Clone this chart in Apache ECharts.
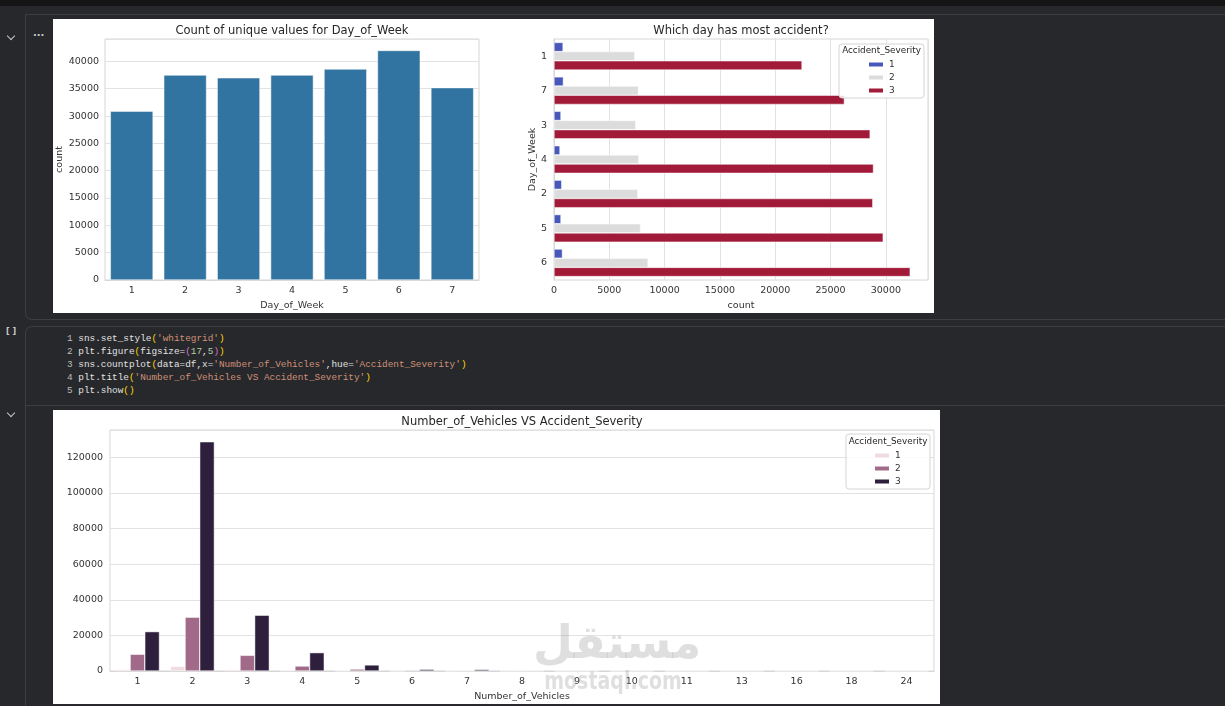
<!DOCTYPE html>
<html>
<head>
<meta charset="utf-8">
<title>Accident charts</title>
<script src="https://cdn.jsdelivr.net/npm/echarts@6/dist/echarts.min.js"></script>
<style type="text/css">
html,body{margin:0;padding:0;}
body{width:1225px;height:706px;background:#27282b;position:relative;overflow:hidden;font-family:"DejaVu Sans",sans-serif;}
#topbar{position:absolute;left:0;top:0;width:1225px;height:6px;background:#151515;}
.cellA{position:absolute;left:25px;top:14px;width:1200px;height:304px;border-left:1px solid #3d3e42;border-top:1px solid #3d3e42;border-bottom:1px solid #3d3e42;border-bottom-left-radius:7px;}
.cellB{position:absolute;left:25px;top:326px;width:1200px;height:78px;border-left:1px solid #3d3e42;border-top:1px solid #3d3e42;border-bottom:1px solid #3d3e42;border-top-left-radius:7px;}
.cellC{position:absolute;left:25px;top:405px;width:1200px;height:301px;border-left:1px solid #3d3e42;}
.panel{position:absolute;background:#fff;}
#p1{left:53px;top:19px;width:881px;height:294px;}
#p2{left:53px;top:410px;width:887px;height:294px;}
.chev{position:absolute;width:5px;height:5px;border-right:1.6px solid #c8c8c8;border-bottom:1.6px solid #c8c8c8;transform:rotate(45deg);}
.gl{position:absolute;color:#c8c8c8;font-size:10px;font-weight:bold;}
pre{position:absolute;left:67px;top:332px;margin:0;font-family:"Liberation Mono","DejaVu Sans Mono",monospace;font-size:9.4px;line-height:13px;color:#e2e2e2;}
.n{color:#bdbdbd;}
.s{color:#ce9178;}
.b1{color:#ffd700;}
.b2{color:#da70d6;}
.num{color:#b5cea8;}
#wm{position:absolute;left:533px;top:614px;width:160px;text-align:center;color:rgba(150,150,150,0.3);font-weight:bold;pointer-events:none;}
#wm .ar{font-family:"DejaVu Sans";font-size:46px;line-height:56px;}
#wm .en{font-family:"DejaVu Sans";font-size:19px;line-height:20px;transform:scaleY(1.3);}
</style>
</head>
<body>
<div id="topbar"></div>
<div class="cellA"></div>
<div class="cellB"></div>
<div class="cellC"></div>
<div class="chev" style="left:8px;top:33px;"></div>
<div class="gl" style="left:33px;top:30px;">···</div>
<div class="gl" style="left:6px;top:327px;font-size:8px;">[ ]</div>
<div class="chev" style="left:8px;top:410px;"></div>

<div id="p1" class="panel"></div>
<pre><span class="n">1</span> sns.set_style<span class="b1">(</span><span class="s">'whitegrid'</span><span class="b1">)</span>
<span class="n">2</span> plt.figure<span class="b1">(</span>figsize=<span class="b2">(</span><span class="num">17</span>,<span class="num">5</span><span class="b2">)</span><span class="b1">)</span>
<span class="n">3</span> sns.countplot<span class="b1">(</span>data=df,x=<span class="s">'Number_of_Vehicles'</span>,hue=<span class="s">'Accident_Severity'</span><span class="b1">)</span>
<span class="n">4</span> plt.title<span class="b1">(</span><span class="s">'Number_of_Vehicles VS Accident_Severity'</span><span class="b1">)</span>
<span class="n">5</span> plt.show<span class="b1">()</span></pre>
<div id="p2" class="panel"></div>
<div id="wm"><div class="ar">مستقل</div><div class="en">mostaql.com</div></div>

<script>
// Day_of_Week counts
var dayCats = ['1', '2', '3', '4', '5', '6', '7'];
var dayCounts = [30900, 37500, 37000, 37500, 38600, 42000, 35200];

// Which day has most accident? (order as drawn, top to bottom)
var sevDayCats = ['1', '7', '3', '4', '2', '5', '6'];
var sevDay1 = [820, 850, 630, 540, 700, 630, 760];
var sevDay2 = [7300, 7640, 7400, 7670, 7580, 7820, 8510];
var sevDay3 = [22420, 26250, 28580, 28880, 28820, 29760, 32200];

// Number_of_Vehicles VS Accident_Severity
var vehCats = ['1', '2', '3', '4', '5', '6', '7', '8', '9', '10', '11', '13', '16', '18', '24'];
var vehSev1 = [900, 2600, 850, 300, 100, 30, 10, 4, 2, 1, 1, 1, 1, 1, 1];
var vehSev2 = [9400, 30200, 8800, 2800, 1100, 500, 120, 40, 15, 6, 3, 2, 1, 1, 1];
var vehSev3 = [22100, 128700, 31300, 10300, 3400, 950, 850, 110, 45, 20, 8, 4, 2, 1, 1];

var sevNames = ['1', '2', '3'];

var txt = '#333333';
var gridC = '#e2e2e2';
var fnt = 'DejaVu Sans';

function lbl(m) {
    return {color: txt, fontSize: 9.5, fontFamily: fnt, margin: m};
}
function numLbl(m) {
    var o = lbl(m);
    o.showMaxLabel = false;
    o.formatter = function (v) { return String(v); };
    return o;
}
function nameStyle() {
    return {color: txt, fontSize: 9.5, fontFamily: fnt};
}
function gtext(t, x, y, size) {
    return {
        type: 'text', z: 10,
        style: {text: t, x: x, y: y, fill: '#262626', font: size + 'px "DejaVu Sans"',
            textAlign: 'center', textVerticalAlign: 'middle', align: 'center', verticalAlign: 'middle'}
    };
}
function legendBox(x, y, w, h) {
    return {
        type: 'rect', z: 5,
        shape: {x: x, y: y, width: w, height: h, r: 3},
        style: {fill: 'rgba(255,255,255,0.85)', stroke: '#d4d4d4', lineWidth: 1}
    };
}

var chartTop = echarts.init(document.getElementById('p1'));
chartTop.setOption({
    animation: false,
    textStyle: {fontFamily: fnt},
    grid: [
        {left: 52, top: 20, width: 374, height: 241, show: true, borderColor: '#d6d6d6', borderWidth: 1,
            containLabel: false, outerBoundsMode: 'none'},
        {left: 501, top: 20, width: 374, height: 241, show: true, borderColor: '#d6d6d6', borderWidth: 1,
            containLabel: false, outerBoundsMode: 'none'}
    ],
    graphic: [
        gtext('Count of unique values for Day_of_Week', 239, 12, 11.5),
        gtext('Which day has most accident?', 688, 12, 11.5),
        legendBox(786, 25, 85, 54),
        gtext('Accident_Severity', 828.5, 32, 8.8)
    ],
    legend: {
        data: sevNames, orient: 'vertical', left: 814, top: 39, padding: 0,
        itemWidth: 16, itemHeight: 6, itemGap: 0, icon: 'rect', z: 11,
        textStyle: {color: txt, fontSize: 9, fontFamily: fnt, lineHeight: 13}
    },
    xAxis: [
        {
            type: 'category', gridIndex: 0, data: dayCats,
            axisTick: {show: false}, axisLine: {lineStyle: {color: '#d6d6d6'}},
            axisLabel: lbl(6),
            name: 'Day_of_Week', nameLocation: 'middle', nameGap: 19, nameTextStyle: nameStyle()
        },
        {
            type: 'value', gridIndex: 1, min: 0, max: 33810, interval: 5000,
            axisLine: {show: false}, axisTick: {show: false},
            axisLabel: numLbl(6),
            splitLine: {lineStyle: {color: gridC}},
            name: 'count', nameLocation: 'middle', nameGap: 19, nameTextStyle: nameStyle()
        }
    ],
    yAxis: [
        {
            type: 'value', gridIndex: 0, min: 0, max: 44100, interval: 5000,
            axisLine: {show: false}, axisTick: {show: false},
            axisLabel: numLbl(6),
            splitLine: {lineStyle: {color: gridC}},
            name: 'count', nameLocation: 'middle', nameGap: 33, nameTextStyle: nameStyle()
        },
        {
            type: 'category', gridIndex: 1, data: sevDayCats, inverse: true,
            axisTick: {show: false}, axisLine: {lineStyle: {color: '#d6d6d6'}},
            axisLabel: lbl(7),
            name: 'Day_of_Week', nameLocation: 'middle', nameGap: 11, nameTextStyle: nameStyle()
        }
    ],
    series: [
        {type: 'bar', xAxisIndex: 0, yAxisIndex: 0, data: dayCounts, barWidth: '80%',
            itemStyle: {color: '#3274a1', borderColor: '#ffffff', borderWidth: 0.5}},
        {name: '1', type: 'bar', xAxisIndex: 1, yAxisIndex: 1, data: sevDay1, barGap: '0%', barCategoryGap: '20%',
            itemStyle: {color: '#4858b8', borderColor: '#ffffff', borderWidth: 0.5}},
        {name: '2', type: 'bar', xAxisIndex: 1, yAxisIndex: 1, data: sevDay2, barGap: '0%', barCategoryGap: '20%',
            itemStyle: {color: '#dcdcdc', borderColor: '#ffffff', borderWidth: 0.5}},
        {name: '3', type: 'bar', xAxisIndex: 1, yAxisIndex: 1, data: sevDay3, barGap: '0%', barCategoryGap: '20%',
            itemStyle: {color: '#a11a37', borderColor: '#ffffff', borderWidth: 0.5}}
    ]
});

var chartBottom = echarts.init(document.getElementById('p2'));
chartBottom.setOption({
    animation: false,
    textStyle: {fontFamily: fnt},
    grid: {left: 57, top: 20, width: 824, height: 241, show: true, borderColor: '#d6d6d6', borderWidth: 1,
        containLabel: false, outerBoundsMode: 'none'},
    graphic: [
        gtext('Number_of_Vehicles VS Accident_Severity', 469, 12, 11.5),
        legendBox(793, 24, 84, 55),
        gtext('Accident_Severity', 835, 32, 8.8)
    ],
    legend: {
        data: sevNames, orient: 'vertical', left: 820, top: 39, padding: 0,
        itemWidth: 16, itemHeight: 6, itemGap: 0, icon: 'rect', z: 11,
        textStyle: {color: txt, fontSize: 9, fontFamily: fnt, lineHeight: 13}
    },
    xAxis: {
        type: 'category', data: vehCats,
        axisTick: {show: false}, axisLine: {lineStyle: {color: '#d6d6d6'}},
        axisLabel: Object.assign(lbl(6), {interval: 0}),
        name: 'Number_of_Vehicles', nameLocation: 'middle', nameGap: 19, nameTextStyle: nameStyle()
    },
    yAxis: {
        type: 'value', min: 0, max: 135300, interval: 20000,
        axisLine: {show: false}, axisTick: {show: false},
        axisLabel: numLbl(7),
        splitLine: {lineStyle: {color: gridC}},
        name: 'count', nameLocation: 'middle', nameGap: 41, nameTextStyle: nameStyle()
    },
    series: [
        {name: '1', type: 'bar', data: vehSev1, barGap: '0%', barCategoryGap: '20%',
            itemStyle: {color: '#efdbe0', borderColor: '#ffffff', borderWidth: 0.5}},
        {name: '2', type: 'bar', data: vehSev2, barGap: '0%', barCategoryGap: '20%',
            itemStyle: {color: '#a06a88', borderColor: '#ffffff', borderWidth: 0.5}},
        {name: '3', type: 'bar', data: vehSev3, barGap: '0%', barCategoryGap: '20%',
            itemStyle: {color: '#2e1f3d', borderColor: '#ffffff', borderWidth: 0.5}}
    ]
});
</script>
</body>
</html>
